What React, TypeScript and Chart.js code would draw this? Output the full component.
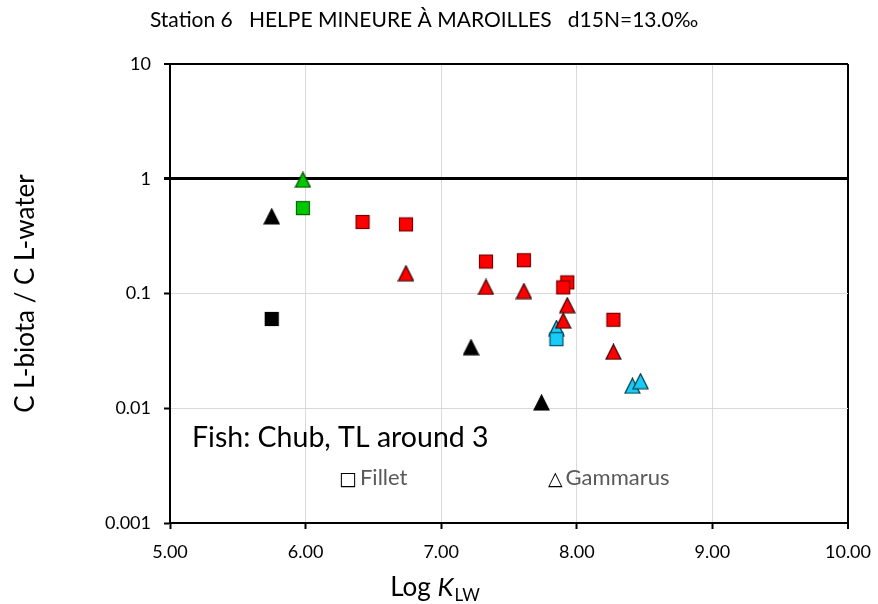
import { useEffect, useRef } from 'react';
import { Chart, registerables } from 'chart.js';

Chart.register(...registerables);

// ---- text ----
const chartTitle = 'Station 6   HELPE MINEURE À MAROILLES   d15N=13.0‰';
const yAxisTitle = 'C L-biota / C L-water';
const xAxisTitleLog = 'Log ';
const xAxisTitleK = 'K';
const xAxisTitleSub = 'LW';
const noteText = 'Fish: Chub, TL around 3';
const filletSymbol = '□';
const filletLabel = 'Fillet';
const gammarusSymbol = '△';
const gammarusLabel = 'Gammarus';

// ---- axes ----
const xMin = 5;
const xMax = 10;
const yTickValues = [0.001, 0.01, 0.1, 1, 10];

// ---- data (log K_LW, C biota / C water) ----
const blackFilletX = [5.75];
const blackFilletY = [0.06];
const blackGammarusX = [5.75, 7.22, 7.74];
const blackGammarusY = [0.47, 0.034, 0.0112];
const greenFilletX = [5.98];
const greenFilletY = [0.555];
const greenGammarusX = [5.98];
const greenGammarusY = [0.98];
const redFilletX = [6.42, 6.74, 7.33, 7.61, 7.93, 7.9, 8.27];
const redFilletY = [0.42, 0.4, 0.19, 0.195, 0.125, 0.113, 0.059];
const redGammarusX = [6.74, 7.33, 7.61, 7.93, 7.9, 8.27];
const redGammarusY = [0.15, 0.114, 0.105, 0.079, 0.058, 0.031];
const cyanFilletX = [7.85];
const cyanFilletY = [0.04];
const cyanGammarusX = [7.85, 8.41, 8.47];
const cyanGammarusY = [0.05, 0.0157, 0.0172];

const FONT = 'Lato, "Open Sans", sans-serif';
const SYMFONT = '"DejaVu Sans", sans-serif';

function pts(xs: number[], ys: number[]) {
  return xs.map((x, i) => ({ x, y: ys[i] }));
}

function squareMarker(fill: string, stroke: string) {
  const c = document.createElement('canvas');
  c.width = 16;
  c.height = 16;
  const g = c.getContext('2d')!;
  g.fillStyle = fill;
  g.fillRect(1, 1, 14, 14);
  g.strokeStyle = stroke;
  g.lineWidth = 1.2;
  g.strokeRect(1.5, 1.5, 13, 13);
  return c;
}

function triangleMarker(fill: string, stroke: string) {
  const c = document.createElement('canvas');
  c.width = 17;
  c.height = 17;
  const g = c.getContext('2d')!;
  g.beginPath();
  g.moveTo(8.5, 1);
  g.lineTo(16, 16);
  g.lineTo(1, 16);
  g.closePath();
  g.fillStyle = fill;
  g.fill();
  g.strokeStyle = stroke;
  g.lineWidth = 1.2;
  g.lineJoin = 'miter';
  g.stroke();
  return c;
}

function drawSymLabel(ctx: any, sym: string, label: string, left: number, base: number) {
  ctx.textAlign = 'left';
  ctx.fillStyle = '#000';
  ctx.font = `19px ${SYMFONT}`;
  ctx.fillText(sym, left, base);
  const ws = ctx.measureText(sym).width;
  ctx.fillStyle = '#595959';
  ctx.font = `22px ${FONT}`;
  ctx.fillText(label, left + ws + 3, base);
}

const textPlugin = {
  id: 'customTexts',
  afterDraw(chart: any) {
    const { ctx, chartArea } = chart;
    ctx.save();
    ctx.fillStyle = '#000';
    ctx.textBaseline = 'alphabetic';

    // title
    ctx.font = `21px ${FONT}`;
    ctx.textAlign = 'center';
    ctx.fillText(chartTitle, 424, 27);

    // y title
    ctx.save();
    ctx.translate(26, (chartArea.top + chartArea.bottom) / 2);
    ctx.rotate(-Math.PI / 2);
    ctx.font = `26px ${FONT}`;
    ctx.textAlign = 'center';
    ctx.textBaseline = 'middle';
    ctx.fillText(yAxisTitle, 0, 0);
    ctx.restore();

    // note
    ctx.font = `28.5px ${FONT}`;
    ctx.textAlign = 'left';
    ctx.fillText(noteText, chartArea.left + 22, chartArea.bottom - 76);

    // legend-like labels
    drawSymLabel(ctx, filletSymbol, filletLabel, 339, chartArea.bottom - 38);
    drawSymLabel(ctx, gammarusSymbol, gammarusLabel, 548, chartArea.bottom - 38);

    // x title with italic K and subscript LW
    ctx.fillStyle = '#000';
    ctx.textAlign = 'left';
    const mainFont = `26px ${FONT}`;
    const italicFont = `italic 26px ${FONT}`;
    const subFont = `17px ${FONT}`;
    ctx.font = mainFont;
    const w1 = ctx.measureText(xAxisTitleLog).width;
    ctx.font = italicFont;
    const w2 = ctx.measureText(xAxisTitleK).width;
    ctx.font = subFont;
    const w3 = ctx.measureText(xAxisTitleSub).width;
    const total = w1 + w2 + 1 + w3;
    let x = 435 - total / 2;
    const base = 596;
    ctx.font = mainFont;
    ctx.fillText(xAxisTitleLog, x, base);
    x += w1;
    ctx.font = italicFont;
    ctx.fillText(xAxisTitleK, x, base);
    x += w2 + 1;
    ctx.font = subFont;
    ctx.fillText(xAxisTitleSub, x, base + 5);
    ctx.restore();
  },
};

export default function App() {
  const ref = useRef<HTMLCanvasElement | null>(null);

  useEffect(() => {
    if (!ref.current) return;
    const blackSq = squareMarker('#000000', '#000000');
    const blackTri = triangleMarker('#000000', '#000000');
    const greenSq = squareMarker('#00C800', '#006400');
    const greenTri = triangleMarker('#00C800', '#004000');
    const redSq = squareMarker('#FF0000', '#7A0000');
    const redTri = triangleMarker('#FF0000', '#3A0000');
    const cyanSq = squareMarker('#19CCF5', '#00506A');
    const cyanTri = triangleMarker('#19CCF5', '#003848');

    const ds = (label: string, data: any[], style: any) => ({
      label,
      data,
      pointStyle: style,
      pointRadius: 8,
      pointHoverRadius: 8,
      showLine: false,
      backgroundColor: 'transparent',
      borderColor: 'transparent',
    });

    const chart = new Chart(ref.current, {
      type: 'scatter',
      data: {
        datasets: [
          ds('Black fillet', pts(blackFilletX, blackFilletY), blackSq),
          ds('Green fillet', pts(greenFilletX, greenFilletY), greenSq),
          ds('Red fillet', pts(redFilletX, redFilletY), redSq),
          ds('Cyan fillet', pts(cyanFilletX, cyanFilletY), cyanSq),
          ds('Black gammarus', pts(blackGammarusX, blackGammarusY), blackTri),
          ds('Green gammarus', pts(greenGammarusX, greenGammarusY), greenTri),
          ds('Red gammarus', pts(redGammarusX, redGammarusY), redTri),
          ds('Cyan gammarus', pts(cyanGammarusX, cyanGammarusY), cyanTri),
        ],
      },
      options: {
        animation: false,
        responsive: false,
        maintainAspectRatio: false,
        layout: { padding: { top: 64, right: 30, left: 0, bottom: 0 } },
        plugins: {
          legend: { display: false },
          tooltip: { enabled: false },
          title: { display: false },
        },
        scales: {
          x: {
            type: 'linear',
            min: xMin,
            max: xMax,
            afterFit: (s: any) => {
              s.height = 81;
              s.paddingLeft = 0;
              s.paddingRight = 0;
            },
            ticks: {
              stepSize: 1,
              padding: 12,
              color: '#000',
              font: { family: FONT, size: 18 },
              callback: (v: any) => Number(v).toFixed(2),
            },
            grid: {
              color: (c: any) => (c.tick && c.tick.value === xMax ? '#000' : '#d9d9d9'),
              lineWidth: (c: any) => (c.tick && c.tick.value === xMax ? 2 : 1),
              tickColor: '#000',
              tickWidth: 2,
              tickLength: 6,
            },
            border: { color: '#000', width: 2 },
          },
          y: {
            type: 'logarithmic',
            min: 0.001,
            max: 10,
            afterFit: (s: any) => {
              s.width = 170;
              s.paddingTop = 0;
              s.paddingBottom = 0;
            },
            afterBuildTicks: (s: any) => {
              s.ticks = yTickValues.map((v) => ({ value: v, major: true }));
            },
            ticks: {
              padding: 13,
              color: '#000',
              font: { family: FONT, size: 18 },
              callback: (v: any) => String(Number(v)),
            },
            grid: {
              color: (c: any) =>
                c.tick && (c.tick.value === 1 || c.tick.value === 10) ? '#000' : '#d9d9d9',
              lineWidth: (c: any) =>
                c.tick && c.tick.value === 1 ? 3 : c.tick && c.tick.value === 10 ? 2 : 1,
              tickColor: '#000',
              tickWidth: (c: any) => (c.tick && c.tick.value === 1 ? 3 : 2),
              tickLength: 6,
            },
            border: { color: '#000', width: 2 },
          },
        },
      },
      plugins: [textPlugin],
    });
    return () => chart.destroy();
  }, []);

  return (
    <div style={{ position: 'absolute', left: 0, top: 0, width: 878, height: 604, background: '#fff' }}>
      <canvas ref={ref} width={878} height={604} style={{ width: 878, height: 604, display: 'block' }} />
    </div>
  );
}
